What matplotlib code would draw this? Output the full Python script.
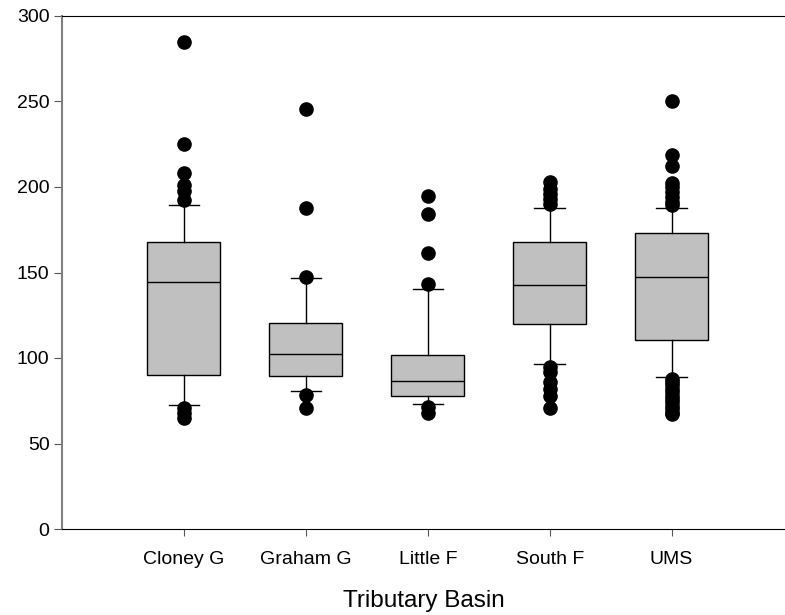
import matplotlib
matplotlib.use("Agg")
import matplotlib.pyplot as plt

plt.rcParams['font.family'] = ['Liberation Sans', 'DejaVu Sans']

# box statistics (SigmaPlot style: whiskers at 10th/90th pct)
basins = ['Cloney G', 'Graham G', 'Little F', 'South F', 'UMS']
q1 = [90, 89.5, 77.7, 120, 110.7]
medians = [144.5, 102.3, 86.3, 142.7, 147.2]
q3 = [168, 120.5, 101.5, 168, 173]
whisker_lo = [72.5, 80.5, 73.2, 96.5, 89]
whisker_hi = [189.5, 146.5, 140.5, 188, 188]
outliers = [
    [285, 225, 208, 201, 197.5, 192.5, 71, 68, 65],
    [245.5, 188, 147.5, 78.5, 71],
    [194.5, 184.5, 161.5, 143, 71.5, 68],
    [203, 199, 196, 193, 190, 95, 92, 86, 82, 78, 70.5],
    [250.5, 218.5, 212, 202.5, 200, 197, 194, 191.5, 189.5,
     88, 86, 84, 82, 80, 78, 76, 74, 72, 70, 68, 67],
]

stats = []
for i in range(len(basins)):
    stats.append({'label': basins[i], 'q1': q1[i], 'med': medians[i], 'q3': q3[i],
                  'whislo': whisker_lo[i], 'whishi': whisker_hi[i], 'fliers': outliers[i]})

fig = plt.figure(figsize=(7.85, 6.15), dpi=100)
ax = fig.add_axes([62 / 785, 1 - 529 / 615, 1 - 62 / 785, (529 - 16) / 615])

ax.bxp(stats, positions=range(1, 6), widths=0.6, capwidths=0.25, patch_artist=True,
       boxprops=dict(facecolor='#C0C0C0', edgecolor='black', linewidth=1),
       medianprops=dict(color='black', linewidth=1),
       whiskerprops=dict(color='black', linewidth=1),
       capprops=dict(color='black', linewidth=1),
       flierprops=dict(marker='o', markerfacecolor='black', markeredgecolor='black',
                       markersize=9.5, linestyle='none'))

ax.set_xlim(0, 5.93)
ax.set_ylim(0, 300)
ax.set_yticks([0, 50, 100, 150, 200, 250, 300])
ax.spines['right'].set_visible(False)
ax.spines['left'].set_color('#808080')
ax.spines['left'].set_linewidth(1.5)
ax.tick_params(axis='y', direction='out', length=6, labelsize=14, pad=3, color='#555555')
ax.tick_params(axis='x', direction='out', length=5, labelsize=14, pad=11, color='#555555')
ax.set_xlabel('Tributary Basin', fontsize=17.5, labelpad=16)

fig.savefig('out.png', dpi=100)
